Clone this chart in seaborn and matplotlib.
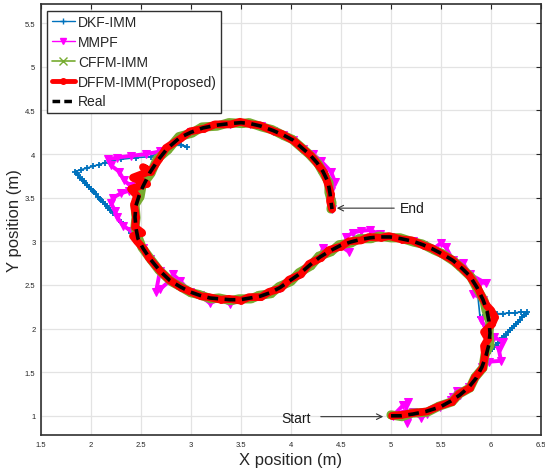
import seaborn as sns
import matplotlib.pyplot as plt
from matplotlib.lines import Line2D

# Real trajectory
real_x = [5.00, 5.10, 5.22, 5.35, 5.49, 5.60, 5.69, 5.78, 5.85, 5.91, 5.95, 5.98, 5.99, 5.98, 5.96, 5.92, 5.86, 5.79, 5.70, 5.62,
          5.52, 5.42, 5.32, 5.22, 5.10, 4.99, 4.89, 4.79, 4.69, 4.59, 4.49, 4.39, 4.29, 4.19, 4.09, 3.99, 3.89, 3.79, 3.69, 3.59,
          3.49, 3.39, 3.29, 3.19, 3.09, 2.99, 2.89, 2.79, 2.69, 2.59, 2.52, 2.47, 2.45, 2.44, 2.45, 2.48, 2.52, 2.59, 2.67, 2.76,
          2.89, 3.00, 3.12, 3.25, 3.39, 3.50, 3.59, 3.70, 3.82, 3.92, 4.02, 4.12, 4.19, 4.26, 4.32, 4.37, 4.39, 4.40, 4.41]
real_y = [1.00, 1.00, 1.02, 1.05, 1.10, 1.17, 1.24, 1.33, 1.43, 1.56, 1.69, 1.82, 1.95, 2.08, 2.20, 2.33, 2.47, 2.60, 2.70, 2.78,
          2.85, 2.91, 2.96, 3.00, 3.03, 3.05, 3.05, 3.04, 3.02, 2.99, 2.95, 2.89, 2.82, 2.73, 2.63, 2.55, 2.47, 2.41, 2.37, 2.35,
          2.33, 2.33, 2.34, 2.35, 2.38, 2.42, 2.48, 2.55, 2.66, 2.80, 2.92, 3.03, 3.15, 3.28, 3.41, 3.52, 3.63, 3.79, 3.93, 4.06,
          4.19, 4.25, 4.30, 4.33, 4.35, 4.36, 4.35, 4.32, 4.27, 4.22, 4.16, 4.06, 3.99, 3.90, 3.80, 3.68, 3.55, 3.45, 3.37]

# DFFM-IMM (proposed)
dffm_x = [5.01, 5.10, 5.21, 5.36, 5.48, 5.61, 5.68, 5.79, 5.84, 5.92, 5.94, 5.93, 5.97, 5.93, 6.01, 6.04, 6.00, 5.96, 5.92, 5.87,
          5.78, 5.71, 5.61, 5.53, 5.41, 5.33, 5.21, 5.11, 4.98, 4.90, 4.78, 4.70, 4.58, 4.50, 4.38, 4.30, 4.18, 4.10, 3.98, 3.90,
          3.78, 3.70, 3.58, 3.50, 3.38, 3.30, 3.18, 3.10, 2.98, 2.90, 2.78, 2.70, 2.58, 2.53, 2.46, 2.42, 2.51, 2.44, 2.45, 2.43,
          2.46, 2.40, 2.56, 2.42, 2.58, 2.52, 2.60, 2.68, 2.75, 2.90, 2.99, 3.13, 3.24, 3.40, 3.49, 3.60, 3.69, 3.83, 3.91, 4.03,
          4.11, 4.20, 4.25, 4.33, 4.36, 4.40, 4.39, 4.41]
dffm_y = [1.00, 1.01, 1.03, 1.05, 1.11, 1.16, 1.25, 1.32, 1.44, 1.55, 1.70, 1.80, 1.88, 1.96, 2.05, 2.13, 2.21, 2.26, 2.34, 2.46,
          2.61, 2.69, 2.79, 2.84, 2.92, 2.95, 3.01, 3.02, 3.06, 3.04, 3.05, 3.01, 3.00, 2.94, 2.90, 2.81, 2.74, 2.62, 2.56, 2.46,
          2.42, 2.36, 2.36, 2.32, 2.34, 2.33, 2.36, 2.37, 2.43, 2.47, 2.56, 2.65, 2.81, 2.91, 3.00, 3.06, 3.10, 3.16, 3.28, 3.42,
          3.52, 3.60, 3.66, 3.73, 3.80, 3.85, 3.80, 3.94, 4.07, 4.18, 4.26, 4.29, 4.34, 4.34, 4.37, 4.34, 4.33, 4.26, 4.23, 4.15,
          4.07, 3.98, 3.91, 3.79, 3.69, 3.54, 3.46, 3.37]

# CFFM-IMM
cffm_x = [5.00, 5.11, 5.21, 5.36, 5.48, 5.61, 5.68, 5.79, 5.84, 5.92, 5.94, 5.99, 5.98, 5.99, 5.95, 5.93, 5.85, 5.80, 5.69, 5.63,
          5.51, 5.43, 5.31, 5.23, 5.09, 5.00, 4.88, 4.80, 4.68, 4.60, 4.48, 4.40, 4.28, 4.20, 4.08, 4.00, 3.88, 3.80, 3.68, 3.60,
          3.48, 3.40, 3.28, 3.20, 3.08, 3.00, 2.88, 2.80, 2.68, 2.60, 2.51, 2.48, 2.44, 2.45, 2.44, 2.49, 2.51, 2.60, 2.66, 2.77,
          2.88, 3.01, 3.11, 3.26, 3.38, 3.51, 3.58, 3.71, 3.81, 3.93, 4.01, 4.13, 4.18, 4.27, 4.31, 4.38, 4.38, 4.41, 4.40]
cffm_y = [1.01, 0.99, 1.03, 1.04, 1.11, 1.16, 1.25, 1.32, 1.44, 1.55, 1.70, 1.81, 1.96, 2.07, 2.21, 2.32, 2.48, 2.59, 2.71, 2.77,
          2.86, 2.90, 2.97, 2.99, 3.04, 3.04, 3.06, 3.03, 3.03, 2.98, 2.96, 2.88, 2.83, 2.72, 2.64, 2.54, 2.48, 2.40, 2.38, 2.34,
          2.34, 2.32, 2.35, 2.34, 2.39, 2.41, 2.49, 2.54, 2.67, 2.79, 2.93, 3.02, 3.16, 3.27, 3.42, 3.51, 3.64, 3.78, 3.94, 4.05,
          4.20, 4.24, 4.31, 4.32, 4.36, 4.35, 4.36, 4.31, 4.28, 4.21, 4.17, 4.05, 4.00, 3.89, 3.81, 3.67, 3.56, 3.44, 3.37]

# MMPF
mmpf_x = [5.02, 5.12, 5.17, 5.14, 5.16, 5.22, 5.30, 5.36, 5.49, 5.60, 5.66, 5.62, 5.69, 5.78, 5.85, 5.91, 5.98, 6.10, 6.08, 6.12,
          6.03, 5.95, 5.90, 5.98, 5.92, 5.82, 5.88, 5.80, 5.95, 5.79, 5.72, 5.62, 5.55, 5.50, 5.42, 5.32, 5.22, 5.10, 4.99, 4.89,
          4.79, 4.70, 4.62, 4.55, 4.58, 4.49, 4.39, 4.32, 4.29, 4.19, 4.09, 3.99, 3.89, 3.79, 3.69, 3.59, 3.49, 3.39, 3.29, 3.19,
          3.09, 2.99, 2.89, 2.82, 2.79, 2.69, 2.65, 2.69, 2.59, 2.52, 2.46, 2.40, 2.32, 2.26, 2.24, 2.20, 2.22, 2.30, 2.38, 2.40,
          2.33, 2.28, 2.20, 2.17, 2.26, 2.40, 2.55, 2.69, 2.76, 2.89, 3.00, 3.12, 3.25, 3.39, 3.50, 3.59, 3.70, 3.82, 3.92, 4.02,
          4.12, 4.22, 4.30, 4.40, 4.44, 4.40, 4.40, 4.41]
mmpf_y = [1.00, 1.12, 1.16, 1.02, 0.92, 1.04, 0.98, 1.02, 1.10, 1.18, 1.28, 1.22, 1.24, 1.33, 1.43, 1.56, 1.62, 1.63, 1.75, 1.85,
          1.90, 2.00, 2.10, 2.18, 2.33, 2.40, 2.50, 2.55, 2.52, 2.62, 2.75, 2.78, 2.93, 2.98, 2.91, 2.96, 3.00, 3.03, 3.05, 3.08,
          3.13, 3.12, 3.10, 3.05, 2.88, 2.95, 2.89, 2.92, 2.82, 2.73, 2.63, 2.55, 2.47, 2.41, 2.37, 2.35, 2.33, 2.28, 2.34, 2.29,
          2.38, 2.42, 2.55, 2.62, 2.55, 2.45, 2.42, 2.66, 2.80, 2.92, 3.05, 3.12, 3.18, 3.28, 3.35, 3.44, 3.50, 3.55, 3.58, 3.63,
          3.70, 3.80, 3.87, 3.94, 3.96, 3.98, 4.00, 4.03, 4.06, 4.19, 4.25, 4.30, 4.33, 4.35, 4.36, 4.35, 4.32, 4.27, 4.22, 4.16,
          4.06, 4.00, 3.92, 3.80, 3.68, 3.58, 3.45, 3.37]

# DKF-IMM
dkf_x = [5.00, 5.22, 5.49, 5.69, 5.85, 5.95,
         5.97, 5.99, 6.01, 6.03, 6.05, 6.07, 6.09, 6.11, 6.13, 6.15, 6.17, 6.19, 6.21, 6.23, 6.25, 6.27, 6.29, 6.31, 6.33, 6.35, 6.36,
         6.30, 6.24, 6.18, 6.12, 6.06, 6.00, 5.94, 5.89,
         5.86, 5.70, 5.52, 5.32, 5.10, 4.89, 4.69, 4.49, 4.29, 4.09, 3.89, 3.69, 3.49, 3.29, 3.09, 2.89, 2.69, 2.52, 2.40, 2.30, 2.22,
         2.19, 2.17, 2.16, 2.14, 2.12, 2.10, 2.09, 2.07, 2.05, 2.03, 2.02, 2.00, 1.98, 1.96, 1.94, 1.93, 1.91, 1.89, 1.87, 1.86, 1.84,
         1.90, 1.96, 2.02, 2.08, 2.14, 2.20, 2.30, 2.45, 2.60, 2.72, 2.80, 2.90, 2.96, 2.85,
         3.00, 3.25, 3.50, 3.70, 3.92, 4.12, 4.26, 4.37, 4.41]
dkf_y = [1.00, 1.02, 1.10, 1.24, 1.43, 1.69,
         1.72, 1.74, 1.77, 1.79, 1.81, 1.84, 1.86, 1.89, 1.91, 1.93, 1.96, 1.98, 2.01, 2.03, 2.05, 2.08, 2.10, 2.13, 2.15, 2.17, 2.19,
         2.19, 2.18, 2.18, 2.17, 2.17, 2.16, 2.15, 2.13,
         2.47, 2.70, 2.85, 2.96, 3.03, 3.05, 3.02, 2.95, 2.82, 2.63, 2.47, 2.37, 2.33, 2.34, 2.38, 2.48, 2.66, 2.92, 3.09, 3.22, 3.33,
         3.36, 3.38, 3.40, 3.43, 3.45, 3.47, 3.49, 3.51, 3.54, 3.56, 3.58, 3.60, 3.62, 3.65, 3.67, 3.69, 3.71, 3.73, 3.76, 3.78, 3.80,
         3.82, 3.84, 3.86, 3.88, 3.90, 3.92, 3.94, 3.96, 3.97, 4.05, 4.10, 4.10, 4.08, 4.14,
         4.25, 4.33, 4.36, 4.32, 4.22, 4.06, 3.90, 3.68, 3.37]

labels = ['DKF-IMM', 'MMPF', 'CFFM-IMM', 'DFFM-IMM(Proposed)', 'Real']
c_dkf, c_mmpf, c_cffm, c_dffm = '#0072BD', '#FF00FF', '#77AC30', '#FF0000'

sns.set_style('whitegrid')
plt.rcParams['font.family'] = ['Liberation Sans', 'DejaVu Sans']

fig, ax = plt.subplots(figsize=(5.45, 4.77), dpi=100)
fig.subplots_adjust(left=0.0752, right=0.9927, bottom=0.086, top=0.9895)

sns.lineplot(x=dkf_x, y=dkf_y, sort=False, estimator=None, ax=ax, color=c_dkf, lw=1.2,
             marker='+', markersize=5, markeredgewidth=1.3, markeredgecolor=c_dkf)
sns.lineplot(x=mmpf_x, y=mmpf_y, sort=False, estimator=None, ax=ax, color=c_mmpf, lw=2.8,
             marker='v', markersize=5.5, markeredgecolor=c_mmpf, markerfacecolor=c_mmpf)
sns.lineplot(x=cffm_x, y=cffm_y, sort=False, estimator=None, ax=ax, color=c_cffm, lw=6.6,
             marker='x', markersize=4.5, markeredgewidth=1.2, markeredgecolor=c_cffm)
sns.lineplot(x=dffm_x, y=dffm_y, sort=False, estimator=None, ax=ax, color=c_dffm, lw=5.6,
             marker='o', markersize=4, markeredgecolor=c_dffm, markerfacecolor=c_dffm)
sns.lineplot(x=real_x, y=real_y, sort=False, estimator=None, ax=ax, color='black', lw=2.6,
             linestyle=(0, (3, 1.8)))

ax.set_xlim(1.5, 6.5)
ax.set_ylim(0.78, 5.72)
ax.set_xticks([1.5, 2, 2.5, 3, 3.5, 4, 4.5, 5, 5.5, 6, 6.5])
ax.set_xticklabels(['1.5', '2', '2.5', '3', '3.5', '4', '4.5', '5', '5.5', '6', '6.5'])
ax.set_yticks([1, 1.5, 2, 2.5, 3, 3.5, 4, 4.5, 5, 5.5])
ax.set_yticklabels(['1', '1.5', '2', '2.5', '3', '3.5', '4', '4.5', '5', '5.5'])
ax.grid(True, color='#e3e3e3', lw=0.9)
ax.tick_params(direction='in', length=3.5, width=0.8, color='#262626', labelsize=5.5,
               labelcolor='#262626', top=True, right=True, pad=4)
for s in ax.spines.values():
    s.set_visible(True)
    s.set_color('#303030')
    s.set_linewidth(1.2)

ax.set_xlabel('X position (m)', fontsize=12, color='#262626', labelpad=3)
ax.set_ylabel('Y position (m)', fontsize=12, color='#262626', labelpad=2)

ax.annotate('', xy=(4.43, 3.38), xytext=(5.06, 3.38),
            arrowprops=dict(arrowstyle='->', color='#333333', lw=0.8))
ax.text(5.09, 3.38, 'End', fontsize=10, va='center', ha='left', color='#1a1a1a')
ax.annotate('', xy=(4.95, 0.99), xytext=(4.27, 0.99),
            arrowprops=dict(arrowstyle='->', color='#333333', lw=0.8))
ax.text(4.20, 0.98, 'Start', fontsize=10, va='center', ha='right', color='#1a1a1a')

handles = [
    Line2D([], [], color=c_dkf, lw=1.0, marker='+', markersize=5),
    Line2D([], [], color=c_mmpf, lw=1.0, marker='v', markersize=4, markerfacecolor=c_mmpf),
    Line2D([], [], color=c_cffm, lw=1.2, marker='x', markersize=6),
    Line2D([], [], color=c_dffm, lw=3.5, marker='o', markersize=4),
    Line2D([], [], color='black', lw=2.5, linestyle=(0, (2.2, 1.2))),
]
leg = ax.legend(handles, labels, loc='upper left', bbox_to_anchor=(0.013, 0.984), fontsize=10,
                frameon=True, fancybox=False, framealpha=1, edgecolor='#303030',
                handlelength=1.7, handletextpad=0.2, labelspacing=0.42, borderpad=0.3,
                borderaxespad=0)
leg.get_frame().set_linewidth(1.0)

plt.savefig('out.png', dpi=100)
